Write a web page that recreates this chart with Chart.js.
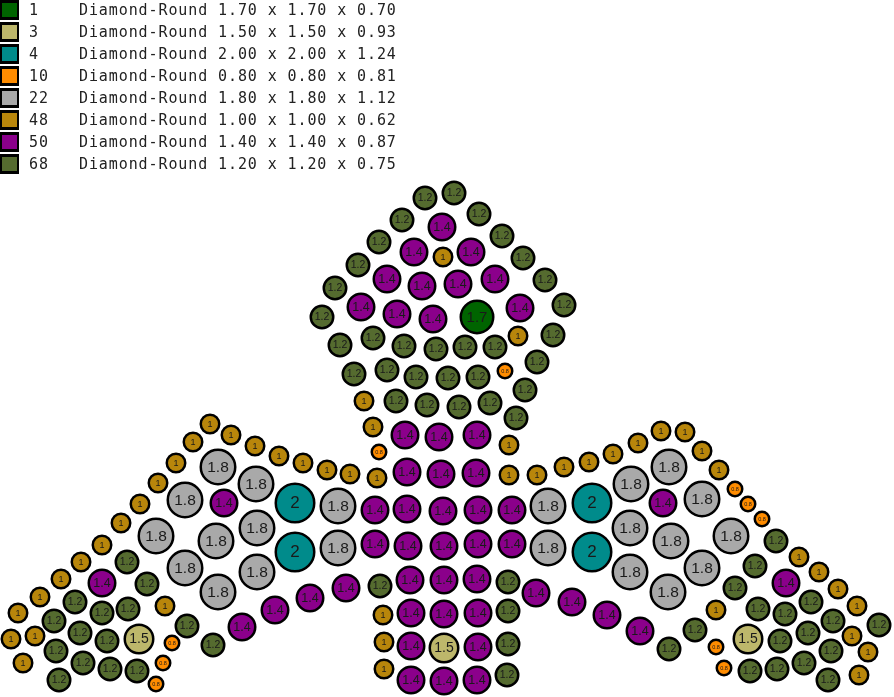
<!DOCTYPE html>
<html>
<head>
<meta charset="utf-8">
<title>Diamond layout</title>
<script src="https://cdn.jsdelivr.net/npm/chart.js@4"></script>
<style>
  html, body { margin: 0; padding: 0; background: #fff; }
  #wrap { position: relative; width: 894px; height: 697px; overflow: hidden; }
  #stones { display: block; }
  #legend { position: absolute; left: 0; top: 0; }
  .row { position: absolute; left: 0; height: 20px; white-space: pre;
         font: 15px "DejaVu Sans Mono", monospace; letter-spacing: 0.9px; color: #222; }
  .swatch { position: absolute; left: 0; top: 0; width: 15px; height: 14px; border-style: solid; border-color: #000; border-width: 3px 2px; }
  .count { position: absolute; left: 29px; top: 0; line-height: 20px; }
  .desc { position: absolute; left: 79px; top: 0; line-height: 20px; }
</style>
</head>
<body>
<div id="wrap">
  <canvas id="stones" width="894" height="697"></canvas>
  <div id="legend"></div>
</div>
<script>
// --- Legend rows, in the order of the reference ---
const stoneCounts = [1, 3, 4, 10, 22, 48, 50, 68];
const stoneWidths = ['1.70', '1.50', '2.00', '0.80', '1.80', '1.00', '1.40', '1.20'];
const stoneDepths = ['0.70', '0.93', '1.24', '0.81', '1.12', '0.62', '0.87', '0.75'];
const stoneLabels = ['1.7', '1.5', '2', '0.8', '1.8', '1', '1.4', '1.2'];
const stoneSizes = [1.7, 1.5, 2, 0.8, 1.8, 1, 1.4, 1.2];
const stoneColors = ['#006400', '#BDB76B', '#008B8B', '#FF8C00', '#A9A9A9', '#B8860B', '#8B008B', '#556B2F'];
const labelFontSizes = [15, 14, 17, 5.5, 15.5, 9, 12.5, 10.5];

// --- Stone positions on the layout (x, y) ---
const stones17 = [[477, 317]];
const stones15 = [[139, 639], [444, 648], [748, 639]];
const stones20 = [[295, 503], [295, 552], [592, 503], [592, 552]];
const stones08 = [
  [505, 371], [379, 452], [172, 643], [163, 663], [156, 684],
  [735, 489], [748, 504], [762, 519], [716, 647], [724, 668]
];
const stones18 = [
  [338, 506], [338, 548], [548, 506], [548, 548],
  [218, 467], [256, 484], [185, 500], [156, 536], [216, 541], [257, 528], [185, 568], [257, 572], [218, 592],
  [669, 467], [631, 484], [702, 499], [731, 536], [630, 528], [671, 541], [702, 568], [630, 572], [668, 592]
];
const stones10 = [
  [443, 257], [518, 336], [364, 401], [373, 427],
  [509, 445], [303, 463], [327, 470], [350, 474], [377, 478], [509, 475], [537, 475], [564, 467], [589, 462],
  [383, 615], [384, 642], [384, 669],
  [210, 424], [231, 435], [255, 446], [279, 456], [193, 442], [176, 463], [158, 483], [140, 504], [121, 523],
  [102, 545], [81, 562], [61, 579], [40, 597], [18, 613], [11, 639], [35, 636], [23, 663], [165, 606],
  [661, 431], [685, 432], [638, 443], [702, 451], [613, 454], [719, 470], [716, 610],
  [799, 557], [819, 572], [838, 589], [857, 606], [852, 636], [868, 652], [859, 675]
];
const stones14 = [
  [442, 227], [414, 252], [471, 252], [387, 279], [422, 286], [458, 284], [495, 279],
  [361, 307], [397, 314], [433, 319], [520, 308],
  [405, 435], [439, 437], [477, 435], [407, 472], [441, 474], [476, 473],
  [375, 510], [407, 509], [443, 511], [478, 510], [512, 510],
  [375, 544], [408, 546], [444, 546], [478, 544], [512, 544],
  [310, 598], [346, 588], [410, 580], [444, 580], [477, 579], [536, 593], [572, 602],
  [411, 613], [444, 614], [478, 613], [411, 646], [478, 647], [411, 680], [444, 681], [477, 680],
  [224, 503], [102, 583], [242, 627], [275, 610],
  [663, 503], [786, 583], [607, 615], [640, 631]
];
const stones12 = [
  [425, 198], [454, 193], [479, 214], [402, 220], [502, 236], [379, 242], [523, 258], [358, 265], [545, 280],
  [335, 288], [564, 305], [322, 317], [553, 335], [340, 345], [373, 338], [404, 346], [436, 349], [465, 347],
  [495, 347], [537, 362], [354, 374], [387, 370], [416, 377], [448, 378], [478, 377], [525, 390],
  [396, 401], [427, 405], [459, 407], [490, 403], [516, 418],
  [380, 586], [508, 582], [508, 611], [508, 644], [507, 675],
  [127, 562], [147, 584], [75, 602], [102, 613], [128, 609], [54, 621], [80, 633], [107, 641], [56, 651],
  [83, 663], [110, 669], [137, 671], [59, 680], [187, 626], [213, 645],
  [776, 541], [755, 566], [735, 588], [758, 609], [785, 614], [811, 602], [833, 621], [879, 625], [808, 633],
  [780, 641], [831, 651], [804, 663], [777, 669], [750, 671], [828, 680], [695, 630], [669, 649]
];
const stonePositions = [stones17, stones15, stones20, stones08, stones18, stones10, stones14, stones12];

// --- Helper: build the HTML legend ---
function buildLegend() {
  const legend = document.getElementById('legend');
  stoneCounts.forEach((count, i) => {
    const row = document.createElement('div');
    row.className = 'row';
    row.style.top = (i * 22) + 'px';

    const swatch = document.createElement('div');
    swatch.className = 'swatch';
    swatch.style.background = stoneColors[i];

    const countEl = document.createElement('span');
    countEl.className = 'count';
    countEl.textContent = count;

    const desc = document.createElement('span');
    desc.className = 'desc';
    desc.textContent = `Diamond-Round ${stoneWidths[i]} x ${stoneWidths[i]} x ${stoneDepths[i]}`;

    row.append(swatch, countEl, desc);
    legend.appendChild(row);
  });
}

// --- Plugin: the size written on each stone ---
const stoneTextPlugin = {
  id: 'stoneText',
  afterDatasetsDraw(chart) {
    const ctx = chart.ctx;
    ctx.save();
    ctx.textAlign = 'center';
    ctx.textBaseline = 'middle';
    ctx.fillStyle = '#1a1a1a';
    chart.data.datasets.forEach((dataset, i) => {
      ctx.font = `${labelFontSizes[i]}px "Liberation Sans", Arial, sans-serif`;
      chart.getDatasetMeta(i).data.forEach(el => {
        ctx.fillText(dataset.label, el.x, el.y + 0.5);
      });
    });
    ctx.restore();
  }
};

buildLegend();

new Chart(document.getElementById('stones'), {
  type: 'bubble',
  data: {
    datasets: stonePositions.map((points, i) => ({
      label: stoneLabels[i],
      data: points.map(p => ({ x: p[0], y: p[1], r: stoneSizes[i] * 10 - 0.75 })),
      backgroundColor: stoneColors[i],
      borderColor: '#000',
      borderWidth: 2.5,
      hoverBorderWidth: 2.5
    }))
  },
  options: {
    responsive: false,
    animation: false,
    layout: { padding: 0, autoPadding: false },
    scales: {
      x: { display: false, min: 0, max: 894 },
      y: { display: false, min: 0, max: 697, reverse: true }
    },
    plugins: { legend: { display: false }, tooltip: { enabled: false } }
  },
  plugins: [stoneTextPlugin]
});
</script>
</body>
</html>
